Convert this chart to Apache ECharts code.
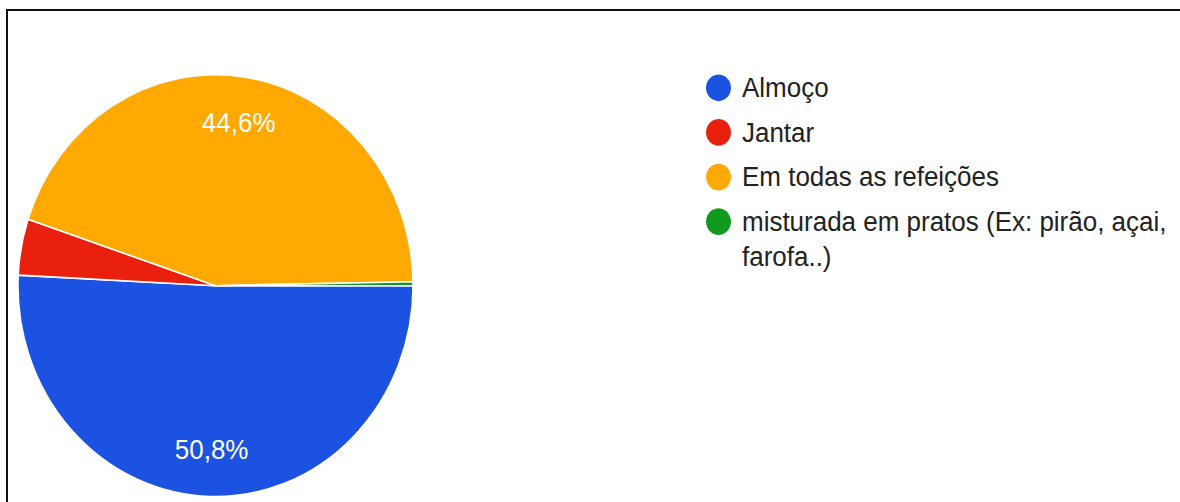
<!DOCTYPE html>
<html>
<head>
<meta charset="utf-8">
<script src="https://cdn.jsdelivr.net/npm/echarts@6/dist/echarts.min.js"></script>
<style>
html,body{margin:0;padding:0;background:#fff;}
#wrap{position:relative;width:1180px;height:502px;overflow:hidden;}
#frame{position:absolute;left:6px;top:9px;width:1200px;height:520px;border-top:2px solid #111;border-left:2px solid #111;}
/* the reference picture is stretched a little in height, so the chart is too */
#chart{position:absolute;left:0;top:0;width:1180px;height:470px;transform:scaleY(1.068);transform-origin:0 0;}
</style>
</head>
<body>
<div id="wrap"><div id="frame"></div><div id="chart"></div></div>
<script>
// dados
const categories = ['Almoço', 'Jantar', 'Em todas as refeições', 'misturada em pratos (Ex: pirão, açai, farofa..)']
const percents = [50.8, 4.3, 44.6, 0.3]
const colors = ['#1c52e2', '#e8200d', '#ffa902', '#0f9a1d']

const chart = echarts.init(document.getElementById('chart'), null, {renderer: 'svg'})

const font = 'Arial, "Liberation Sans", sans-serif'
const center = [215.5, 267.5]
const R = 197.5

const pieData = categories.map((name, i) => ({
  name: name,
  value: percents[i],
  itemStyle: {color: colors[i]}
}))

// estilo comum das legendas
const legendBase = {
  orient: 'vertical',
  left: 706,
  padding: 0,
  icon: 'circle',
  itemWidth: 37,
  itemHeight: 25,
  itemGap: 8.8,
  itemStyle: {borderWidth: 0},
  textStyle: {fontFamily: font, fontSize: 26, lineHeight: 33, color: '#222'}
}

const option = {
  animation: false,
  legend: [
    Object.assign({}, legendBase, {
      top: 65.7,
      data: categories.slice(0, 3)
    }),
    // último item quebra em duas linhas; a linha vazia no topo
    // deixa o ícone alinhado com a primeira linha do texto
    Object.assign({}, legendBase, {
      top: 158,
      data: [categories[3]],
      formatter: () => '\nmisturada em pratos (Ex: pirão, açai,\nfarofa..)'
    })
  ],
  series: [
    {
      // pizza
      type: 'pie',
      center: center,
      radius: [0, R],
      startAngle: 0,
      clockwise: true,
      silent: true,
      avoidLabelOverlap: false,
      label: {show: false},
      labelLine: {show: false},
      itemStyle: {borderColor: '#fff', borderWidth: 1.5},
      emphasis: {disabled: true},
      data: pieData
    },
    {
      // anel invisível só para colocar os rótulos a ~3/4 do raio
      type: 'pie',
      center: center,
      radius: [R * 0.53, R],
      startAngle: 0,
      clockwise: true,
      silent: true,
      avoidLabelOverlap: false,
      itemStyle: {color: 'rgba(0,0,0,0)', borderWidth: 0},
      labelLine: {show: false},
      label: {
        show: true,
        position: 'inside',
        color: '#fff',
        textBorderWidth: 0,
        fontFamily: font,
        fontSize: 26,
        formatter: p => p.value < 5 ? '' : String(p.value).replace('.', ',') + '%'
      },
      emphasis: {disabled: true},
      data: categories.map((name, i) => ({name: name, value: percents[i]}))
    }
  ]
}

chart.setOption(option)
</script>
</body>
</html>
